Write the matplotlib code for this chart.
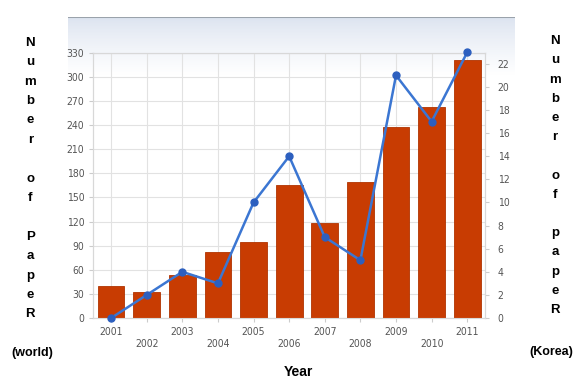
import numpy as np
import matplotlib
matplotlib.use("Agg")
import matplotlib.pyplot as plt

years = ['2001', '2002', '2003', '2004', '2005', '2006',
         '2007', '2008', '2009', '2010', '2011']
world_papers = [40, 32, 54, 82, 95, 166, 118, 169, 238, 263, 321]
korea_papers = [0, 2, 4, 3, 10, 14, 7, 5, 21, 17, 23]
left_ticks = [0, 30, 60, 90, 120, 150, 180, 210, 240, 270, 300, 330]
right_ticks = [0, 2, 4, 6, 8, 10, 12, 14, 16, 18, 20, 22]

fig = plt.figure(figsize=(5.83, 3.8), dpi=100)

# light blue gradient panel behind the chart
bg = fig.add_axes([0.117, 0.13, 0.766, 0.825], zorder=0)
grad = np.linspace(0, 1, 256).reshape(-1, 1)
grad = np.clip(grad * 5.5, 0, 1) ** 0.8
cols = np.zeros((256, 1, 3))
top_c = np.array([0.86, 0.89, 0.94])
bot_c = np.array([1.0, 1.0, 1.0])
cols[:, 0, :] = top_c + (bot_c - top_c) * grad
bg.imshow(cols, aspect='auto', extent=[0, 1, 0, 1])
bg.axis('off')
bg.axhline(1, color='#9aa2ab', linewidth=1.5)

ax = fig.add_axes([0.16, 0.163, 0.672, 0.698], zorder=1)
ax.patch.set_alpha(0)
x = np.arange(len(years))
ax.bar(x, world_papers, width=0.75, color='#c83c02', edgecolor='#b03300',
       linewidth=0.6, zorder=3)
ax.set_xlim(-0.5, len(years) - 0.5)
ax.set_ylim(0, 330)
ax.set_yticks(left_ticks)
ax.set_xticks(x)
ax.set_xticklabels(['\n' + y if i % 2 else y for i, y in enumerate(years)],
                   linespacing=1.3)
ax.grid(True, color='#e2e2e2', linewidth=0.8, zorder=0)
ax.set_axisbelow(True)
for s in ax.spines.values():
    s.set_color('#d8d8d8')
ax.tick_params(colors='#555555', labelsize=7.5, length=3, color='#cccccc')
for lab in ax.get_xticklabels() + ax.get_yticklabels():
    lab.set_fontstretch('condensed')

ax2 = ax.twinx()
ax2.plot(x, korea_papers, color='#3b76d2', linewidth=1.8, marker='o',
         markersize=5, markerfacecolor='#2c5fbf', markeredgecolor='#2c5fbf',
         zorder=4, clip_on=False)
ax2.set_ylim(0, 22.95)
ax2.set_yticks(right_ticks)
for s in ax2.spines.values():
    s.set_color('#d8d8d8')
ax2.tick_params(colors='#555555', labelsize=7.5, length=3, color='#cccccc',
                pad=6)
for lab in ax2.get_yticklabels():
    lab.set_fontstretch('condensed')

fig.text(0.512, 0.003, 'Year', ha='center', va='bottom', fontsize=10,
         fontweight='bold', family='Liberation Sans')

left_txt = '\n'.join(list('Number')) + '\n\n' + '\n'.join(list('of')) + '\n\n' + '\n'.join(list('PapeR'))
right_txt = '\n'.join(list('Number')) + '\n\n' + '\n'.join(list('of')) + '\n\n' + '\n'.join(list('papeR'))
fig.text(0.052, 0.53, left_txt, ha='center', va='center', fontsize=9.5,
         fontweight='bold', family='Liberation Sans', linespacing=1.82)
fig.text(0.952, 0.538, right_txt, ha='center', va='center', fontsize=9.5,
         fontweight='bold', family='Liberation Sans', linespacing=1.8)
fig.text(0.055, 0.07, '(world)', ha='center', va='center', fontsize=9,
         fontweight='bold', family='Liberation Sans')
fig.text(0.945, 0.073, '(Korea)', ha='center', va='center', fontsize=9,
         fontweight='bold', family='Liberation Sans')

fig.savefig('out.png', dpi=100)
